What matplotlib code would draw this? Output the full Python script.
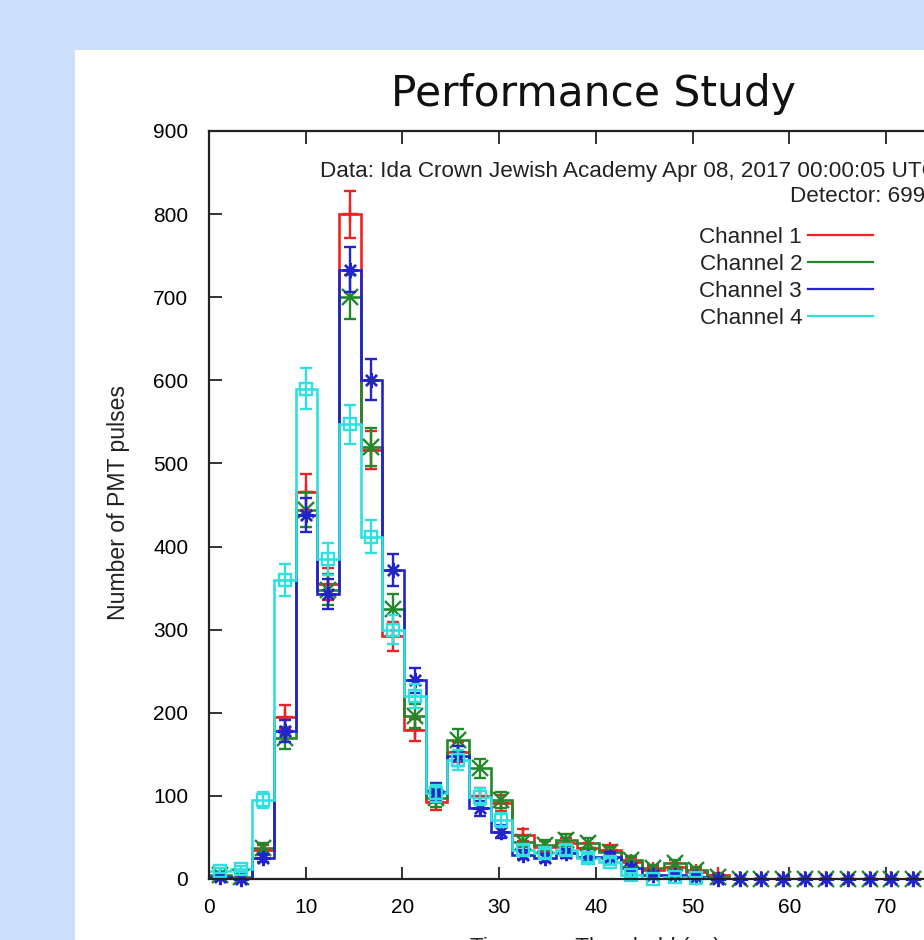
import numpy as np
import matplotlib
matplotlib.use("Agg")
import matplotlib.pyplot as plt
from matplotlib.lines import Line2D
from matplotlib.patches import Rectangle

plt.rcParams["font.family"] = ["Liberation Sans", "DejaVu Sans"]

# Histogram bins (ns) and pulse counts per PMT channel
bin_width = 2.24

ch1 = [2, 1, 35, 195, 466, 355, 800, 516, 292, 179, 93, 153, 100, 91, 53, 39, 43, 37,
       35, 21, 11, 15, 9, 5, 0, 0, 0, 0, 0, 0, 0, 0, 0, 0, 0]
ch2 = [5, 2, 37, 170, 444, 348, 700, 520, 325, 196, 97, 167, 133, 95, 45, 41, 47, 43,
       33, 23, 13, 19, 11, 3, 0, 0, 0, 0, 0, 0, 0, 0, 0, 0, 0]
ch3 = [3, 0, 25, 178, 438, 343, 733, 601, 372, 239, 105, 148, 85, 57, 29, 25, 31, 27,
       27, 13, 5, 5, 3, 0, 0, 0, 0, 0, 0, 0, 0, 0, 0, 0, 0]
ch4 = [10, 12, 95, 360, 590, 385, 547, 412, 300, 220, 103, 143, 99, 71, 35, 31, 35, 25,
       21, 5, 0, 2, 1]

channels = ["Channel 1", "Channel 2", "Channel 3", "Channel 4"]
colors = ["#ee2222", "#22882a", "#2424cc", "#2ee0e0"]
markers = ["+", "x", (8, 2, 0), "s"]

title = "Performance Study"
data_label = "Data: Ida Crown Jewish Academy Apr 08, 2017 00:00:05 UTC"
detector_label = "Detector: 6991"

W, H = 924, 940
fig = plt.figure(figsize=(W / 100, H / 100), dpi=100, facecolor="#cde0fb")
# white page behind the plot
fig.patches.append(Rectangle((75 / W, 0), 1, 1 - 50 / H, transform=fig.transFigure,
                             facecolor="white", edgecolor="none", zorder=-5))

x0, x1 = 0, 80
ppu = 9.67  # pixels per ns
ax = fig.add_axes([209 / W, 61 / H, (x1 - x0) * ppu / W, 748 / H])
ax.set_zorder(2)
ax.set_facecolor("white")

for vals, col, mk in zip([ch1, ch2, ch3, ch4], colors, markers):
    vals = np.asarray(vals, dtype=float)
    edges = np.arange(len(vals) + 1) * bin_width
    centers = (edges[:-1] + edges[1:]) / 2
    ax.stairs(vals, edges, baseline=None, color=col, lw=1.9)
    eb = ax.errorbar(centers, vals, yerr=np.sqrt(vals), fmt="none", ecolor=col,
                     elinewidth=1.7, capsize=4.2, capthick=1.7)
    for art in eb.get_children():
        art.set_clip_on(False)
    if mk == "s":
        ax.plot(centers, vals, ls="none", marker=mk, ms=8, mfc="none", mec=col, mew=1.7,
                clip_on=False)
    else:
        ax.plot(centers, vals, ls="none", marker=mk, ms=11, mec=col, color=col, mew=1.7,
                clip_on=False)

ax.set_xlim(x0, x1)
ax.set_ylim(0, 900)
ax.set_xticks(np.arange(0, 81, 10))
ax.set_yticks(np.arange(0, 901, 100))
ax.tick_params(direction="in", length=9, width=1.3, labelsize=15, top=True, right=True,
               color="#222222")
ax.tick_params(axis="y", pad=15)
ax.tick_params(axis="x", pad=14)
for sp in ax.spines.values():
    sp.set_linewidth(1.6)
    sp.set_color("#222222")

ax.text(75.4, 845, data_label, ha="right", va="baseline", fontsize=16.2, color="#222222")
ax.text(75.4, 814, detector_label, ha="right", va="baseline", fontsize=16.2, color="#222222")

handles = [Line2D([], [], color=c, lw=1.6) for c in colors]
ax.legend(handles, channels, loc="upper right", bbox_to_anchor=(873 / W, 1 - 227 / H),
          bbox_transform=fig.transFigure, markerfirst=False, frameon=False, fontsize=16.2,
          handlelength=2.9, handletextpad=0.25, labelspacing=0.27, borderpad=0,
          borderaxespad=0, labelcolor="#222222")

fig.text(593 / W, 1 - 106 / H, title, family="DejaVu Sans", fontsize=30.5,
         ha="center", va="baseline", color="#111111")
fig.text(118 / W, 1 - 503 / H, "Number of PMT pulses", rotation=90, ha="center",
         va="center", fontsize=16.6, color="#222222")
ax.set_xlabel("Time over Threshold (ns)", fontsize=16.2, labelpad=14, color="#222222")

fig.savefig("out.png", dpi=100, facecolor=fig.get_facecolor())
